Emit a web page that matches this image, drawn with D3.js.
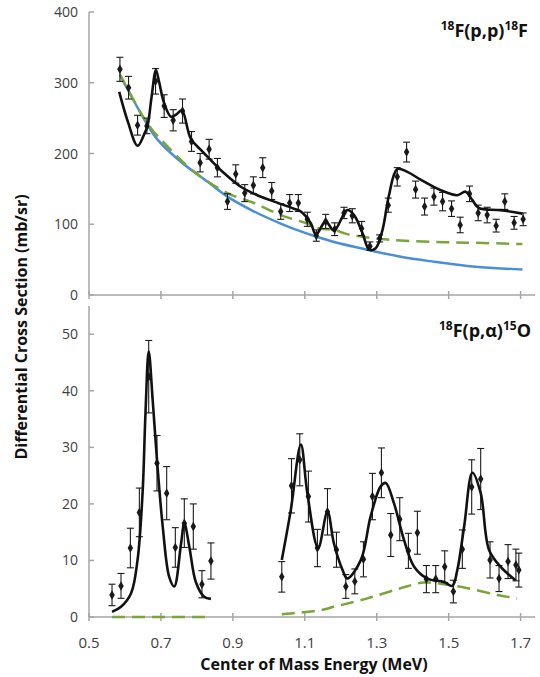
<!DOCTYPE html>
<html>
<head>
<meta charset="utf-8">
<script src="https://cdn.jsdelivr.net/npm/d3@7"></script>
<style>
  body { margin: 0; background: #fff; }
  text { font-family: "Open Sans", sans-serif; }
</style>
</head>
<body>
<script>
// tick labels
var xTicks = [0.5, 0.7, 0.9, 1.1, 1.3, 1.5, 1.7];
var topTicks = [0, 100, 200, 300, 400];
var botTicks = [0, 10, 20, 30, 40, 50];

// 18F(p,p)18F measured points: [energy, value, error]
var ppData = [
  [0.586, 319, 17], [0.61, 293, 16], [0.635, 240, 14], [0.661, 239, 11],
  [0.685, 302, 18], [0.709, 267, 16], [0.734, 247, 15], [0.76, 260, 17],
  [0.785, 217, 14], [0.809, 187, 13], [0.834, 206, 14], [0.857, 180, 13],
  [0.885, 132, 11], [0.908, 171, 13], [0.933, 144, 12], [0.957, 155, 12],
  [0.983, 180, 14], [1.008, 147, 12], [1.033, 118, 11], [1.058, 130, 12],
  [1.082, 130, 12], [1.107, 107, 10], [1.132, 84, 8], [1.158, 104, 10],
  [1.183, 93, 9], [1.209, 116, 8], [1.232, 112, 10], [1.258, 94, 10],
  [1.281, 69, 6], [1.308, 80, 5], [1.332, 127, 10], [1.357, 167, 13],
  [1.383, 202, 14], [1.408, 149, 12], [1.433, 125, 12], [1.459, 139, 12],
  [1.483, 132, 13], [1.508, 122, 11], [1.532, 99, 11], [1.558, 143, 11],
  [1.582, 116, 11], [1.607, 113, 11], [1.632, 98, 9], [1.656, 132, 11],
  [1.682, 102, 9], [1.707, 107, 9]
];

// R-matrix fit (black)
var ppFit = [
  [0.584, 287], [0.608, 245], [0.635, 211], [0.654, 228], [0.663, 240],
  [0.674, 280], [0.686, 318], [0.695, 301], [0.709, 271], [0.728, 252],
  [0.742, 255], [0.758, 261], [0.783, 221], [0.811, 205], [0.834, 193],
  [0.876, 172], [0.922, 153], [0.968, 141], [1.015, 132], [1.07, 122],
  [1.089, 118], [1.117, 101], [1.131, 85], [1.158, 104], [1.181, 91],
  [1.218, 120], [1.237, 113], [1.26, 88], [1.279, 64], [1.297, 66],
  [1.316, 92], [1.334, 141], [1.357, 178], [1.385, 174], [1.422, 163],
  [1.478, 148], [1.524, 141], [1.547, 146], [1.566, 134], [1.584, 123],
  [1.644, 120], [1.705, 115]
];

// Rutherford (blue)
var ppRuth = [
  [0.586, 311], [0.663, 240], [0.69, 220], [0.756, 188], [0.83, 160],
  [0.885, 139], [0.959, 118], [1.033, 101], [1.089, 90], [1.135, 82],
  [1.181, 75], [1.274, 64], [1.367, 54], [1.459, 47], [1.552, 41], [1.705, 36]
];

// no-resonance curve (green dashed)
var ppBg = [
  [0.586, 312], [0.663, 242], [0.718, 210], [0.793, 174], [0.885, 144],
  [0.959, 130], [1.033, 113], [1.107, 101], [1.14, 94], [1.181, 92],
  [1.218, 86], [1.265, 82], [1.311, 79], [1.367, 77], [1.459, 75],
  [1.552, 74], [1.705, 72]
];

// 18F(p,a)15O measured points
var paData = [
  [0.564, 3.9, 1.9], [0.589, 5.5, 2.2], [0.615, 12.2, 3.5], [0.64, 18.5, 4.3],
  [0.666, 42.5, 6.4], [0.689, 27.2, 4.9], [0.716, 21.9, 4.7], [0.74, 12.3, 3.5],
  [0.765, 16.6, 4.3], [0.79, 16.0, 4.0], [0.814, 5.8, 2.4], [0.839, 9.9, 3.2],
  [1.036, 7.1, 2.7], [1.063, 23.2, 4.8], [1.086, 27.8, 4.6], [1.11, 21.3, 4.5],
  [1.135, 12.2, 3.3], [1.163, 18.6, 4.1], [1.188, 11.9, 3.1], [1.214, 5.4, 2.1],
  [1.239, 6.3, 2.2], [1.263, 10.2, 3.1], [1.288, 21.3, 4.1], [1.313, 25.5, 4.4],
  [1.339, 14.5, 3.8], [1.364, 17.3, 3.8], [1.388, 11.7, 3.1], [1.413, 14.9, 3.8],
  [1.438, 6.7, 2.4], [1.464, 6.7, 2.4], [1.489, 8.9, 2.8], [1.513, 4.5, 2.0],
  [1.538, 12.0, 3.4], [1.564, 23.0, 4.8], [1.589, 24.4, 5.4], [1.615, 10.1, 3.2],
  [1.64, 6.8, 2.3], [1.665, 9.8, 3.0], [1.687, 9.2, 2.8], [1.695, 8.3, 3.0]
];

var paFit1 = [
  [0.564, 0.9], [0.589, 1.8], [0.617, 4.2], [0.635, 10.1], [0.649, 22],
  [0.657, 36], [0.666, 47], [0.677, 38.4], [0.689, 27.8], [0.705, 16],
  [0.723, 7.1], [0.737, 5.4], [0.756, 13.0], [0.765, 16.6], [0.779, 12.4],
  [0.797, 6.2], [0.82, 3.6], [0.839, 3.2]
];
var paFit2 = [
  [1.036, 10.1], [1.061, 18.9], [1.089, 30.5], [1.107, 21.9], [1.137, 12.2],
  [1.163, 18.6], [1.181, 13.0], [1.205, 8.3], [1.218, 6.8], [1.256, 10.1],
  [1.283, 17.8], [1.311, 23.1], [1.325, 23.7], [1.348, 20.1], [1.376, 13.6],
  [1.404, 8.9], [1.441, 6.8], [1.487, 6.2], [1.51, 5.5], [1.524, 8.3],
  [1.543, 16.0], [1.566, 25.5], [1.589, 21.9], [1.612, 11.9], [1.644, 8.9],
  [1.686, 6.5]
];
var paBg1 = [[0.564, 0], [0.839, 0]];
var paBg2 = [
  [1.036, 0.5], [1.089, 0.8], [1.144, 1.2], [1.181, 1.8], [1.274, 3.3],
  [1.367, 5.1], [1.431, 6.1], [1.487, 5.8], [1.552, 5.1], [1.635, 3.9],
  [1.69, 3.3]
];

var w = 540, h = 677;
var svg = d3.select("body").append("svg")
  .attr("width", w).attr("height", h);

var x = d3.scaleLinear().domain([0.5, 1.74]).range([89, 535]);
var yTop = d3.scaleLinear().domain([0, 400]).range([295, 12]);
var yBot = d3.scaleLinear().domain([0, 55]).range([617, 306]);

var axisColor = "#a6a6a6";
var green = "#7aa53a", blue = "#4a8ed8";

function drawPanel(y, ticks, labelTicks) {
  var g = svg.append("g");
  // y axis line + inward ticks
  g.append("line")
    .attr("x1", x(0.5)).attr("x2", x(0.5))
    .attr("y1", y.range()[0]).attr("y2", y.range()[1])
    .attr("stroke", axisColor).attr("stroke-width", 1.5);
  g.selectAll(".yt").data(ticks).enter().append("line")
    .attr("x1", x(0.5)).attr("x2", x(0.5) + 5)
    .attr("y1", y).attr("y2", y)
    .attr("stroke", axisColor).attr("stroke-width", 1.5);
  g.selectAll(".yl").data(ticks).enter().append("text")
    .attr("x", 78).attr("y", function(d) { return y(d) + 5; })
    .attr("text-anchor", "end")
    .style("font-size", "14px").style("fill", "#404040")
    .text(function(d) { return d; });
  // x axis line + ticks
  var y0 = y(0);
  g.append("line")
    .attr("x1", x(0.5)).attr("x2", x(1.74))
    .attr("y1", y0).attr("y2", y0)
    .attr("stroke", axisColor).attr("stroke-width", 1.5);
  g.selectAll(".xt").data(xTicks).enter().append("line")
    .attr("x1", x).attr("x2", x)
    .attr("y1", y0 - 4).attr("y2", y0 + 4)
    .attr("stroke", axisColor).attr("stroke-width", 1.5);
  if (labelTicks) {
    g.selectAll(".xl").data(xTicks).enter().append("text")
      .attr("x", x).attr("y", y0 + 31)
      .attr("text-anchor", "middle")
      .style("font-size", "15px").style("fill", "#404040")
      .text(function(d) { return d3.format(".1f")(d); });
  }
}

drawPanel(yTop, topTicks, false);
drawPanel(yBot, botTicks, true);

function curve(data, y, color, width, dash) {
  var line = d3.line()
    .x(function(d) { return x(d[0]); })
    .y(function(d) { return y(d[1]); })
    .curve(d3.curveCatmullRom.alpha(0.5));
  var p = svg.append("path").datum(data)
    .attr("d", line)
    .attr("fill", "none")
    .attr("stroke", color)
    .attr("stroke-width", width)
    .attr("stroke-linejoin", "round");
  if (dash) p.attr("stroke-dasharray", dash);
}

function points(data, y) {
  var g = svg.append("g").attr("stroke", "#1a1a1a").attr("stroke-width", 1.1);
  var pt = g.selectAll(".pt").data(data).enter().append("g");
  pt.append("line")
    .attr("x1", function(d) { return x(d[0]); })
    .attr("x2", function(d) { return x(d[0]); })
    .attr("y1", function(d) { return y(d[1] - d[2]); })
    .attr("y2", function(d) { return y(d[1] + d[2]); });
  [1, -1].forEach(function(s) {
    pt.append("line")
      .attr("x1", function(d) { return x(d[0]) - 3.5; })
      .attr("x2", function(d) { return x(d[0]) + 3.5; })
      .attr("y1", function(d) { return y(d[1] + s * d[2]); })
      .attr("y2", function(d) { return y(d[1] + s * d[2]); });
  });
  svg.append("g").selectAll("path").data(data).enter().append("path")
    .attr("d", d3.symbol().type(d3.symbolDiamond).size(26))
    .attr("transform", function(d) { return "translate(" + x(d[0]) + "," + y(d[1]) + ")"; })
    .attr("fill", "#1a1a1a");
}

// top panel
curve(ppRuth, yTop, blue, 2.5);
curve(ppBg, yTop, green, 2.5, "13,7");
points(ppData, yTop);
curve(ppFit, yTop, "#111", 2.6);

// bottom panel
curve(paBg1, yBot, green, 2.5, "13,7");
curve(paBg2, yBot, green, 2.5, "13,7");
points(paData, yBot);
curve(paFit1, yBot, "#111", 2.6);
curve(paFit2, yBot, "#111", 2.6);

// reaction labels: superscripts shift up, next normal part shifts back down
function reaction(xr, yb, parts) {
  var t = svg.append("text")
    .attr("x", xr).attr("y", yb)
    .attr("text-anchor", "end")
    .style("font-weight", "bold").style("fill", "#111");
  var shift = 0;
  parts.forEach(function(p) {
    var target = p.sup ? -7 : 0;
    t.append("tspan")
      .attr("dy", target - shift)
      .style("font-size", p.sup ? "12px" : "18px")
      .text(p.t);
    shift = target;
  });
}
reaction(528, 37, [{t: "18", sup: true}, {t: "F(p,p)"}, {t: "18", sup: true}, {t: "F"}]);
reaction(531, 337, [{t: "18", sup: true}, {t: "F(p,α)"}, {t: "15", sup: true}, {t: "O"}]);

// axis titles
svg.append("text")
  .attr("x", (x(0.5) + x(1.74)) / 2 + 2).attr("y", 670)
  .attr("text-anchor", "middle")
  .style("font-weight", "bold").style("font-size", "16px").style("fill", "#111")
  .text("Center of Mass Energy (MeV)");

svg.append("text")
  .attr("transform", "translate(27,327) rotate(-90)")
  .attr("text-anchor", "middle")
  .style("font-weight", "bold").style("font-size", "16px").style("fill", "#111")
  .text("Differential Cross Section (mb/sr)");
</script>
</body>
</html>
